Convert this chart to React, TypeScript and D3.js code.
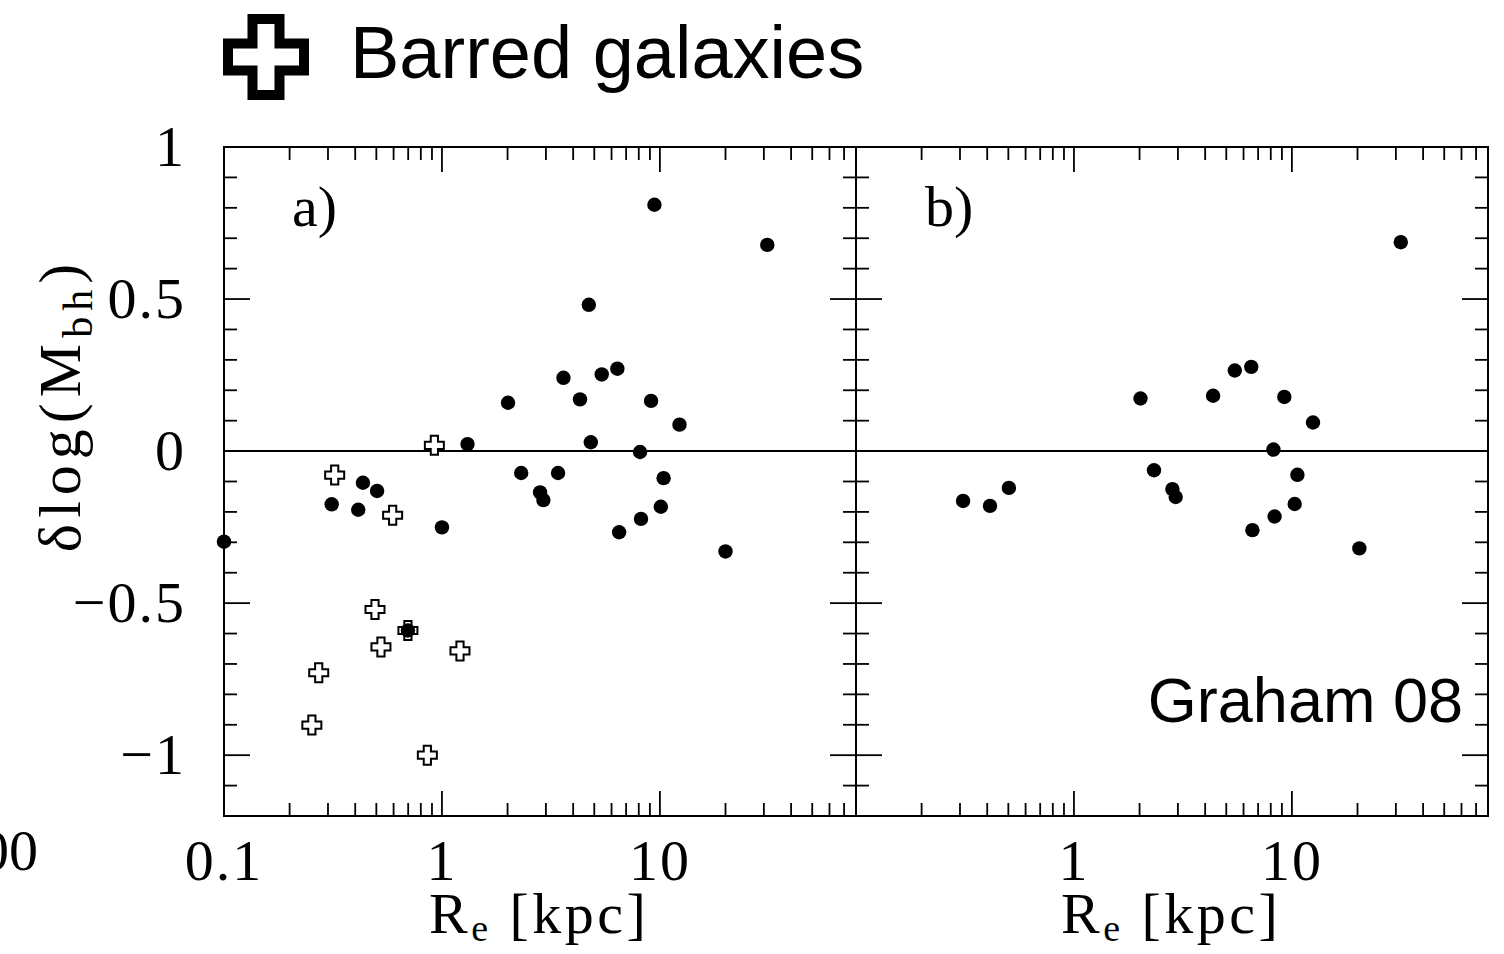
import React from "react";
import * as d3 from "d3";

// ---------------- data ----------------
// Panel a) – all galaxies (filled circles)
const aRe = [0.1, 9.44, 31.1, 4.72, 3.61, 5.41, 6.38, 2.01, 4.30, 9.11, 12.3, 1.31, 4.82, 8.11, 2.31, 3.41, 10.4, 0.434, 0.504, 2.82, 2.92, 0.312, 0.413, 10.1, 8.19, 1.0, 6.50, 20.0, 0.698];
const aDM = [-0.298, 0.810, 0.678, 0.481, 0.241, 0.252, 0.271, 0.159, 0.170, 0.165, 0.087, 0.023, 0.029, -0.003, -0.072, -0.072, -0.089, -0.104, -0.131, -0.136, -0.161, -0.175, -0.193, -0.183, -0.223, -0.251, -0.267, -0.330, -0.590];
// Panel a) – barred galaxies (open crosses)
const barRe = [0.923, 0.322, 0.594, 0.493, 0.698, 0.525, 1.21, 0.272, 0.253, 0.857];
const barDM = [0.019, -0.079, -0.211, -0.521, -0.590, -0.644, -0.657, -0.729, -0.901, -1.0];
// Panel b) – Graham 08 sample
const bRe = [31.6, 6.51, 5.47, 2.02, 4.35, 9.23, 12.5, 8.23, 2.33, 10.6, 0.310, 0.412, 0.503, 2.83, 2.93, 10.3, 8.33, 6.59, 20.4];
const bDM = [0.687, 0.277, 0.265, 0.173, 0.182, 0.178, 0.094, 0.005, -0.063, -0.078, -0.164, -0.180, -0.121, -0.125, -0.151, -0.174, -0.215, -0.260, -0.320];

const xDomain = [0.1, 79.4];
const yDomain = [-1.2, 1];
const xTickLabelsA = [0.1, 1, 10];
const xTickLabelsB = [1, 10];
const yTickLabels = [1, 0.5, 0, -0.5, -1];

// ---------------- layout ----------------
const W = 1504;
const H = 954;
const top = 147;
const bottom = 816;
const panels = [
  { x0: 224, x1: 856, label: "a)", xLabels: xTickLabelsA },
  { x0: 856, x1: 1488, label: "b)", xLabels: xTickLabelsB },
];
const SERIF = "'Liberation Serif', 'Times New Roman', serif";
const SANS = "'Liberation Sans', Arial, Helvetica, sans-serif";

function plusPath(cx: number, cy: number, h: number, w: number) {
  return `M${cx - w},${cy - h}H${cx + w}V${cy - w}H${cx + h}V${cy + w}H${cx + w}V${cy + h}H${cx - w}V${cy + w}H${cx - h}V${cy - w}H${cx - w}Z`;
}

const yScale = d3.scaleLinear().domain(yDomain).range([bottom, top]);

function fmt(v: number) {
  return v < 0 ? "\u2212" + String(Math.abs(v)) : String(v);
}

function Panel({ p, idx }: { p: any; idx: number }) {
  const x = d3.scaleLog().domain(xDomain).range([p.x0, p.x1]);
  const majors: number[] = [];
  const minors: number[] = [];
  for (let d = -1; d <= 1; d++) {
    for (let k = 1; k <= 9; k++) {
      const v = k * Math.pow(10, d);
      if (v <= xDomain[0] * 1.0001 || v >= xDomain[1]) continue;
      if (k === 1) majors.push(v);
      else minors.push(v);
    }
  }
  const yt: number[] = [];
  for (let i = -12; i <= 10; i++) yt.push(i / 10);
  const xs = idx === 0 ? aRe : bRe;
  const ys = idx === 0 ? aDM : bDM;
  const sw = 1.8;
  return (
    <g>
      {majors.map((v, i) => (
        <g key={"M" + i}>
          <line x1={x(v)} x2={x(v)} y1={top} y2={top + 25} stroke="#000" strokeWidth={sw} />
          <line x1={x(v)} x2={x(v)} y1={bottom} y2={bottom - 25} stroke="#000" strokeWidth={sw} />
        </g>
      ))}
      {minors.map((v, i) => (
        <g key={"m" + i}>
          <line x1={x(v)} x2={x(v)} y1={top} y2={top + 13} stroke="#000" strokeWidth={sw} />
          <line x1={x(v)} x2={x(v)} y1={bottom} y2={bottom - 13} stroke="#000" strokeWidth={sw} />
        </g>
      ))}
      {yt.map((v, i) => {
        const isMajor = Math.abs(v * 2 - Math.round(v * 2)) < 1e-6;
        const len = isMajor ? 26 : 13;
        const yy = yScale(v);
        if (v <= yDomain[0] || v >= yDomain[1]) return null;
        return (
          <g key={"y" + i}>
            <line x1={p.x0} x2={p.x0 + len} y1={yy} y2={yy} stroke="#000" strokeWidth={sw} />
            <line x1={p.x1} x2={p.x1 - len} y1={yy} y2={yy} stroke="#000" strokeWidth={sw} />
          </g>
        );
      })}
      <line x1={p.x0} x2={p.x1} y1={yScale(0)} y2={yScale(0)} stroke="#000" strokeWidth={2} />
      <rect x={p.x0} y={top} width={p.x1 - p.x0} height={bottom - top} fill="none" stroke="#000" strokeWidth={2} />
      {p.xLabels.map((v: number, i: number) => (
        <text key={"xl" + i} x={x(v)} y={880} textAnchor="middle" fontFamily={SERIF} fontSize={58} letterSpacing={2}>
          {String(v)}
        </text>
      ))}
      <text x={x(1) - 13} y={933} fontFamily={SERIF} fontSize={58} letterSpacing={3.5}>
        R
        <tspan fontSize={38} dy={8}>e</tspan>
        <tspan dy={-8}>{" [kpc]"}</tspan>
      </text>
      <text x={p.x0 + (idx === 0 ? 68 : 69)} y={226} fontFamily={SERIF} fontSize={58}>
        {p.label}
      </text>
      {idx === 0 &&
        barRe.map((r, i) => (
          <path key={"c" + i} d={plusPath(x(r), yScale(barDM[i]), 9.5, 3.6)} fill="#fff" stroke="#000" strokeWidth={2} />
        ))}
      {xs.map((r, i) => (
        <circle key={"p" + i} cx={x(r)} cy={yScale(ys[i])} r={7.2} fill="#000" />
      ))}
    </g>
  );
}

export default function App() {
  return (
    <svg width={W} height={H} style={{ position: "absolute", left: 0, top: 0, background: "#fff" }}>
      <rect x={0} y={0} width={W} height={H} fill="#fff" />
      <path d={plusPath(266, 57, 38, 13.5)} fill="#fff" stroke="#000" strokeWidth={10} />
      <text x={350} y={78} fontFamily={SANS} fontSize={74}>
        Barred galaxies
      </text>
      <text x={38} y={870} textAnchor="end" fontFamily={SERIF} fontSize={58}>
        00
      </text>
      {panels.map((p, i) => (
        <Panel key={i} p={p} idx={i} />
      ))}
      {yTickLabels.map((v, i) => (
        <text key={"yl" + i} x={186} y={yScale(v) + 19} textAnchor="end" fontFamily={SERIF} fontSize={58} letterSpacing={2}>
          {fmt(v)}
        </text>
      ))}
      <text transform="translate(80,405) rotate(-90)" textAnchor="middle" fontFamily={SERIF} fontSize={60} letterSpacing={6}>
        {"\u03b4log(M"}
        <tspan fontSize={42} dy={12}>bh</tspan>
        <tspan dy={-12}>)</tspan>
      </text>
      <text x={1463} y={722} textAnchor="end" fontFamily={SANS} fontSize={63}>
        Graham 08
      </text>
    </svg>
  );
}
